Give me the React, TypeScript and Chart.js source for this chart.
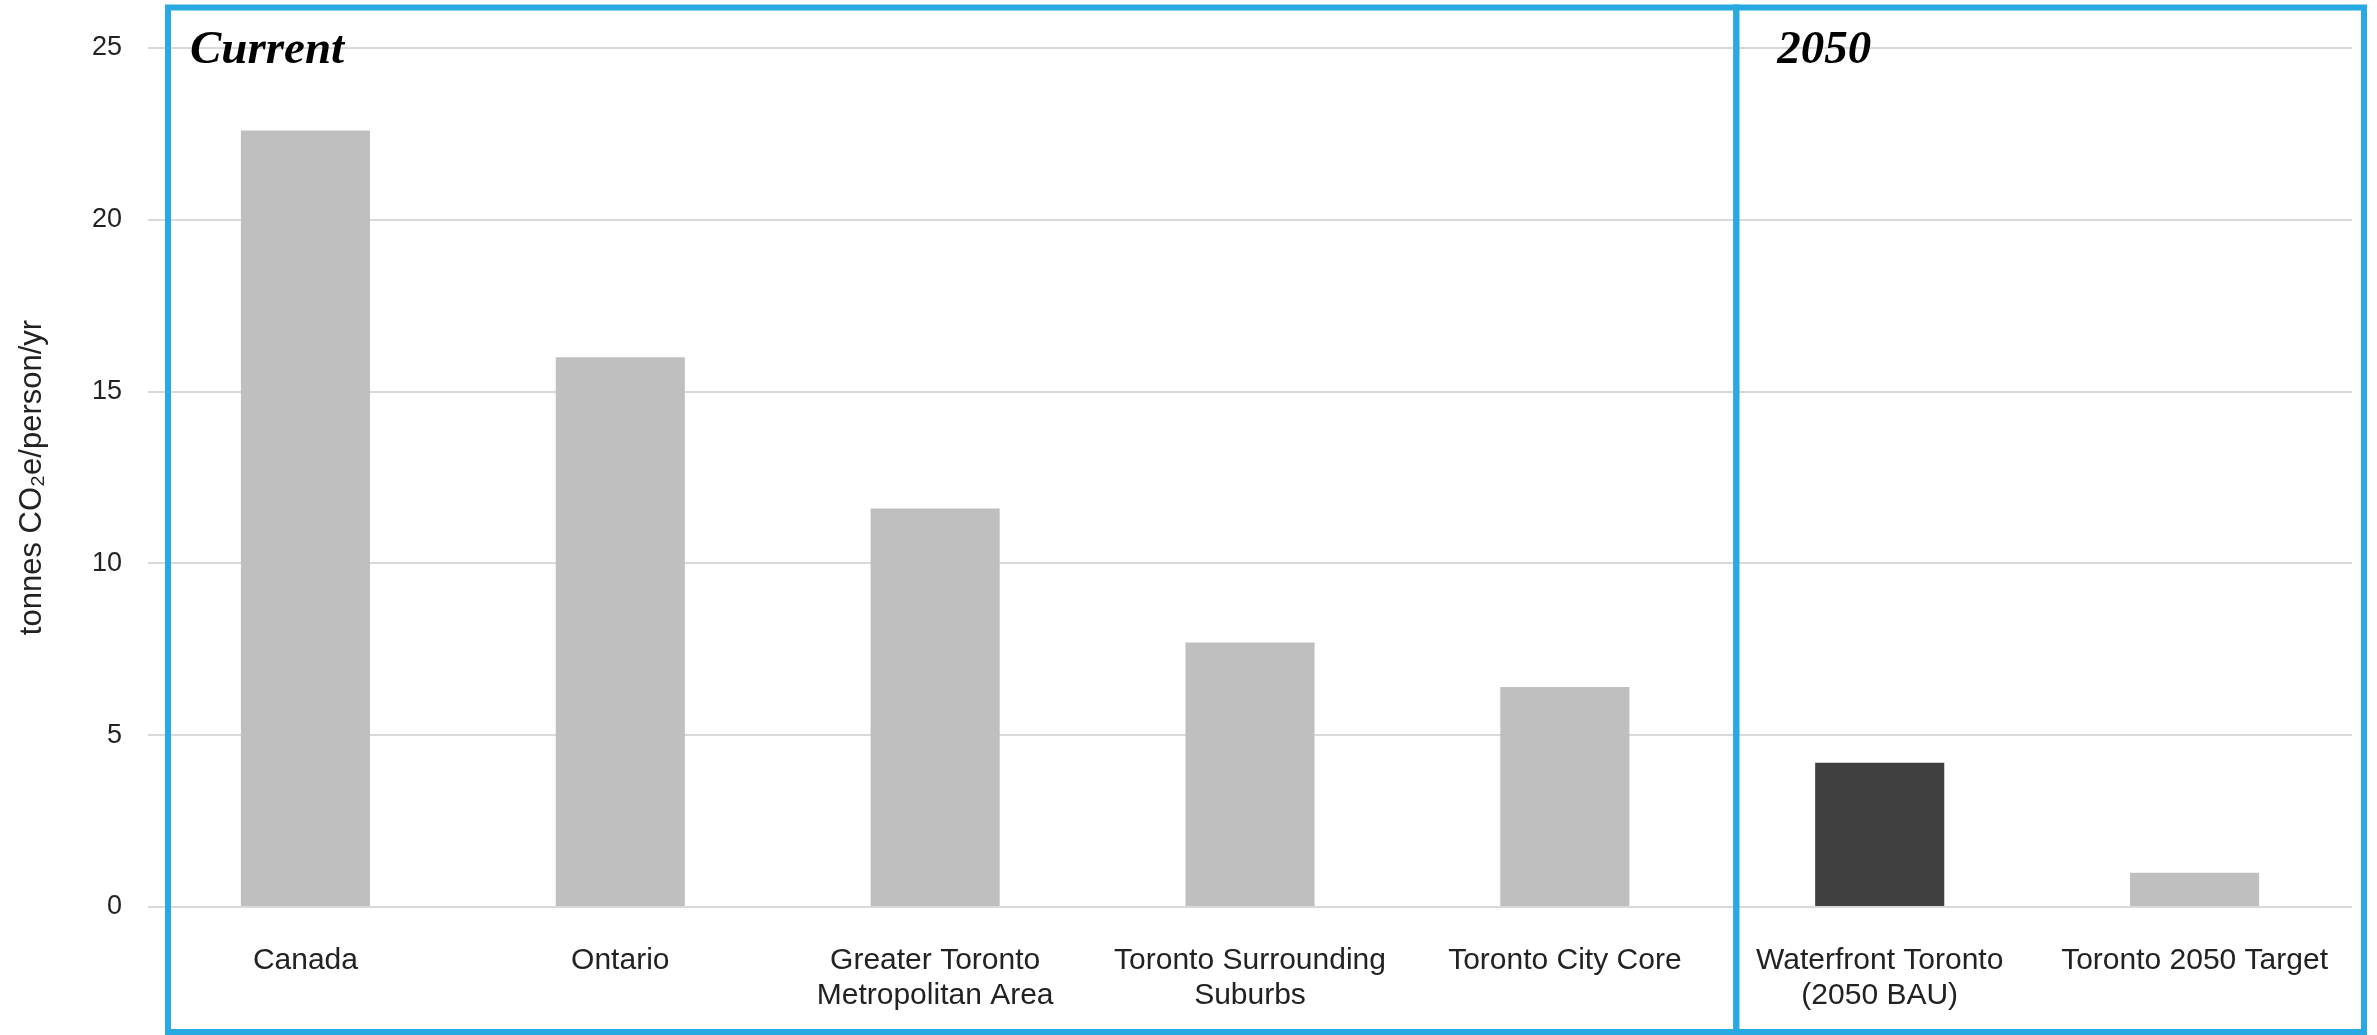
import React, { useEffect, useRef } from 'react';
import { Chart, registerables } from 'chart.js';

Chart.register(...registerables);

const categories: string[][] = [
  ['Canada'],
  ['Ontario'],
  ['Greater Toronto', 'Metropolitan Area'],
  ['Toronto Surrounding', 'Suburbs'],
  ['Toronto City Core'],
  ['Waterfront Toronto', '(2050 BAU)'],
  ['Toronto 2050 Target'],
];
const emissions: number[] = [22.6, 16.0, 11.6, 7.7, 6.4, 4.2, 1.0];
const barColors: string[] = ['#BFBFBF', '#BFBFBF', '#BFBFBF', '#BFBFBF', '#BFBFBF', '#404040', '#BFBFBF'];
const yMin = 0;
const yMax = 25;
const yStep = 5;
const panelLabels: string[] = ['Current', '2050'];
const yAxisTitle = 'tonnes CO\u2082e/person/yr';

const panelPlugin = {
  id: 'panels',
  afterDraw(chart: any) {
    const { ctx, chartArea, scales } = chart;
    const x = scales.x;
    const left = chartArea.left + 20;
    const right = chartArea.right + 12;
    const divider = (x.getPixelForValue(4) + x.getPixelForValue(5)) / 2 + 14;
    const top = 7.5;
    const bottom = chart.height - 3;
    ctx.save();
    ctx.strokeStyle = '#29A9E1';
    ctx.lineWidth = 6;
    ctx.strokeRect(left, top, divider - left, bottom - top);
    ctx.strokeRect(divider, top, right - divider, bottom - top);
    ctx.font = 'italic bold 47px "Liberation Serif", "Times New Roman", serif';
    ctx.fillStyle = '#000000';
    ctx.textBaseline = 'alphabetic';
    ctx.textAlign = 'left';
    ctx.fillText(panelLabels[0], left + 22, 63);
    ctx.fillText(panelLabels[1], divider + 41, 63);
    ctx.restore();
  },
};

export default function App() {
  const canvasRef = useRef<HTMLCanvasElement | null>(null);

  useEffect(() => {
    document.body.style.margin = '0';
    const canvas = canvasRef.current;
    if (!canvas) return;
    Chart.defaults.font.family = '"Liberation Sans", Arial, sans-serif';
    const chart = new Chart(canvas, {
      type: 'bar',
      data: {
        labels: categories,
        datasets: [
          {
            data: emissions,
            backgroundColor: barColors,
            borderWidth: 0,
            barPercentage: 0.41,
            categoryPercentage: 1,
          },
        ],
      },
      options: {
        animation: false,
        responsive: false,
        devicePixelRatio: 1,
        layout: { padding: { top: 48, right: 25, left: 0, bottom: 0 } },
        plugins: {
          legend: { display: false },
          tooltip: { enabled: false },
        },
        scales: {
          x: {
            grid: { display: false },
            border: { display: false },
            ticks: {
              color: '#222222',
              font: { size: 30, lineHeight: 1.18 },
              padding: 28,
              maxRotation: 0,
              autoSkip: false,
            },
            afterFit: (s: any) => {
              s.height = 128;
            },
          },
          y: {
            min: yMin,
            max: yMax,
            grid: { color: '#D9D9D9', lineWidth: 2, drawTicks: false },
            border: { display: false },
            ticks: {
              stepSize: yStep,
              color: '#222222',
              font: { size: 27 },
              padding: 26,
            },
            title: {
              display: true,
              text: yAxisTitle,
              color: '#222222',
              font: { size: 31, lineHeight: 1.2 },
              padding: { top: 14, bottom: 0 },
            },
            afterFit: (s: any) => {
              s.width = 148;
            },
          },
        },
      },
      plugins: [panelPlugin],
    });
    return () => {
      chart.destroy();
    };
  }, []);

  return (
    <div style={{ position: 'absolute', left: 0, top: 0, width: 2377, height: 1035 }}>
      <canvas ref={canvasRef} width={2377} height={1035} style={{ display: 'block' }} />
    </div>
  );
}
